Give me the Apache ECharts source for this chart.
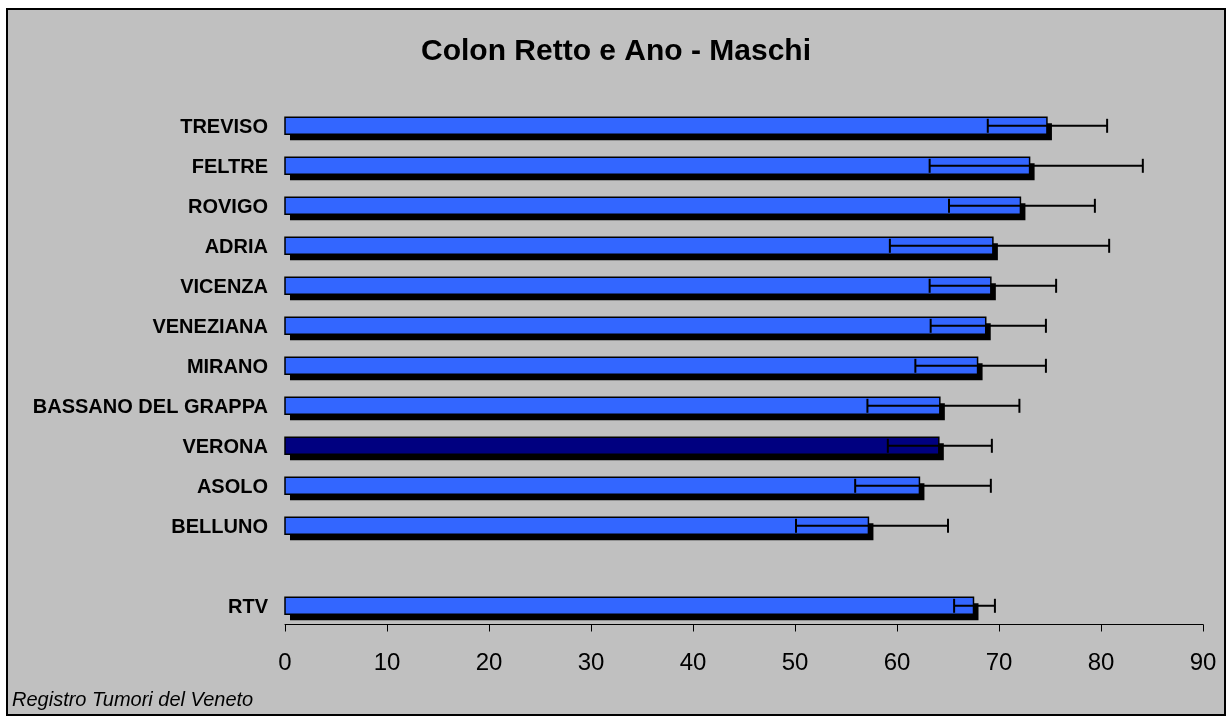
<!DOCTYPE html>
<html>
<head>
<meta charset="utf-8">
<title>Colon Retto e Ano - Maschi</title>
<script src="https://cdn.jsdelivr.net/npm/echarts@6/dist/echarts.min.js"></script>
<style>
  html, body { margin: 0; padding: 0; background: #fff; }
  #chart { width: 1232px; height: 718px; }
</style>
</head>
<body>
<div id="chart"></div>
<script>
// categorie (dall'alto in basso), la voce vuota e' lo spazio prima di RTV
var categorie = ['TREVISO', 'FELTRE', 'ROVIGO', 'ADRIA', 'VICENZA', 'VENEZIANA', 'MIRANO',
  'BASSANO DEL GRAPPA', 'VERONA', 'ASOLO', 'BELLUNO', '', 'RTV']
var tassi = [74.7, 73.0, 72.1, 69.4, 69.2, 68.7, 67.9, 64.2, 64.1, 62.2, 57.2, null, 67.5]
var limInf = [68.9, 63.2, 65.1, 59.3, 63.2, 63.3, 61.8, 57.1, 59.1, 55.9, 50.1, null, 65.6]
var limSup = [80.6, 84.1, 79.4, 80.8, 75.6, 74.6, 74.6, 72.0, 69.3, 69.2, 65.0, null, 69.6]
var evidenziata = 'VERONA'

var font = 'Arial, "Liberation Sans", sans-serif'

var barre = []
var errori = []
for (var i = 0; i < categorie.length; i++) {
  if (tassi[i] == null) continue
  barre.push([i, tassi[i], categorie[i] == evidenziata ? 1 : 0])
  errori.push([i, limInf[i], limSup[i]])
}

var DY = 1.3   // le barre stanno un filo sotto il centro della fascia
var ALT = 17   // altezza barra

var chart = echarts.init(document.getElementById('chart'))
chart.setOption({
  backgroundColor: '#fff',
  animation: false,
  title: {
    text: 'Colon Retto e Ano - Maschi',
    left: 'center',
    top: 32,
    textStyle: { fontFamily: font, fontSize: 30, fontWeight: 'bold', color: '#000' }
  },
  graphic: [
    {
      type: 'rect', z: -10, silent: true,
      shape: { x: 7, y: 9, width: 1218, height: 706 },
      style: { fill: '#c0c0c0', stroke: '#000', lineWidth: 2 }
    },
    {
      type: 'text', z: 10, silent: true,
      x: 12, y: 690,
      style: {
        text: 'Registro Tumori del Veneto',
        font: 'italic 20px ' + font,
        fill: '#000',
        verticalAlign: 'top'
      }
    }
  ],
  grid: { left: 285, right: 29, top: 104.5, bottom: 93.5, containLabel: false },
  xAxis: {
    type: 'value',
    min: 0, max: 90, interval: 10,
    axisLine: { show: true, lineStyle: { color: '#000', width: 1 } },
    axisTick: { show: true, length: 7, lineStyle: { color: '#000' } },
    splitLine: { show: false },
    axisLabel: { fontFamily: font, fontSize: 24, color: '#000', margin: 27 }
  },
  yAxis: {
    type: 'category',
    inverse: true,
    data: categorie,
    axisLine: { show: false },
    axisTick: { show: false },
    axisLabel: {
      margin: 17,
      formatter: function (v) { return v ? '{n|' + v + '}' : '' },
      rich: {
        n: { fontFamily: font, fontSize: 20, fontWeight: 'bold', color: '#000', padding: [5, 0, 0, 0] }
      }
    }
  },
  series: [
    {
      type: 'custom',
      z: 3,
      data: barre,
      renderItem: function (params, api) {
        var idx = api.value(0)
        var p0 = api.coord([0, idx])
        var p1 = api.coord([api.value(1), idx])
        var y = p0[1] + DY - ALT / 2
        var w = p1[0] - p0[0]
        var col = api.value(2) ? '#000080' : '#3366ff'
        return {
          type: 'group',
          children: [
            { type: 'rect', shape: { x: p0[0] + 5, y: y + 6, width: w, height: ALT }, style: { fill: '#000' } },
            { type: 'rect', shape: { x: p0[0], y: y, width: w, height: ALT },
              style: { fill: col, stroke: '#000', lineWidth: 1.5 } }
          ]
        }
      }
    },
    {
      type: 'custom',
      z: 5,
      data: errori,
      renderItem: function (params, api) {
        var idx = api.value(0)
        var a = api.coord([api.value(1), idx])
        var b = api.coord([api.value(2), idx])
        var c = a[1] + DY
        var h = 7
        var st = { stroke: '#000', lineWidth: 2 }
        return {
          type: 'group',
          children: [
            { type: 'line', shape: { x1: a[0], y1: c, x2: b[0], y2: c }, style: st },
            { type: 'line', shape: { x1: a[0], y1: c - h, x2: a[0], y2: c + h }, style: st },
            { type: 'line', shape: { x1: b[0], y1: c - h, x2: b[0], y2: c + h }, style: st }
          ]
        }
      }
    }
  ]
})
</script>
</body>
</html>
